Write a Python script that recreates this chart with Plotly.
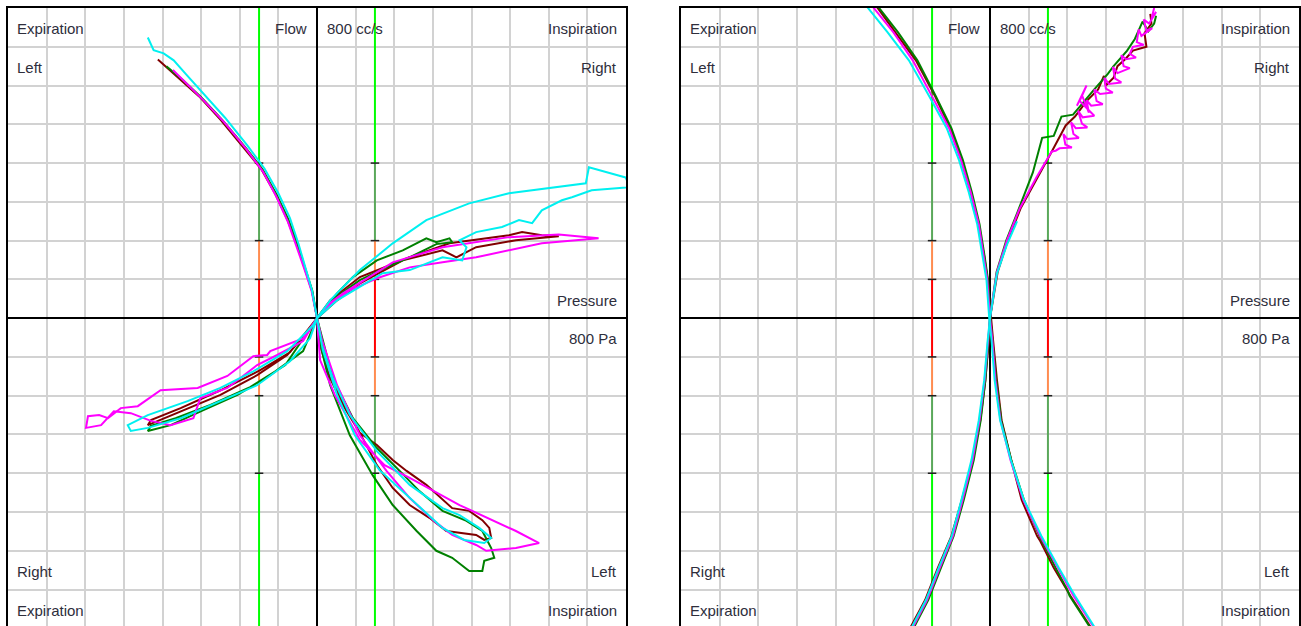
import plotly.graph_objects as go

W, H = 1301, 626

# Axis ranges (Pa horizontally, cc/s vertically); grid every 100
PRESSURE_RANGE = [-800, 800]
FLOW_RANGE = [-794, 800]
GRID_STEP = 100

# Marker lines at +/-150 Pa with resistance zones along them
MARKER_PRESSURE = 150
ZONE_EDGES = [100, 200, 400, 900]          # |flow| boundaries
ZONE_COLORS = ["#ff0000", "#ff8c50", "#5aa85a", "#00ff00"]
TICK_FLOWS = [100, 200, 400]

# ---------------- Panel A (left chart) : (pressure Pa, flow cc/s) ----------------
A_LN_MAROON = [(-412, 667), (-358, 620), (-305, 572), (-250, 512), (-190, 440), (-144, 384), (-108, 320),
               (-77, 255), (-52, 190), (-30, 124), (-13, 70), (0, 0),
               (8, -70), (34, -155), (67, -224), (111, -296), (155, -327), (196, -366), (232, -394),
               (283, -430), (350, -490), (394, -497), (428, -521), (446, -541), (451, -567), (433, -572),
               (412, -559), (335, -549), (291, -515), (240, -482), (196, -438), (155, -379), (103, -283),
               (59, -198), (21, -95), (0, 0)]
A_LN_GREEN = [(-390, 650), (-348, 615), (-300, 570), (-246, 512), (-186, 441), (-141, 384), (-105, 320),
              (-74, 255), (-50, 190), (-29, 124), (-12, 70), (0, 0),
              (3, -44), (34, -173), (85, -302), (144, -405), (196, -482), (258, -549), (309, -600),
              (350, -618), (394, -652), (428, -652), (433, -626), (459, -618), (451, -593), (428, -549),
              (387, -523), (325, -497), (265, -446), (214, -394), (155, -335), (93, -258), (41, -155), (0, 0)]
A_LN_MAGENTA = [(-373, 640), (-340, 607), (-295, 563), (-240, 505), (-183, 436), (-140, 378), (-106, 315),
                (-76, 250), (-53, 186), (-31, 122), (-14, 70), (0, 0),
                (8, -108), (46, -198), (111, -314), (175, -379), (240, -412), (369, -482), (515, -549),
                (575, -580), (515, -593), (438, -600), (412, -585), (350, -559), (309, -528), (240, -464),
                (180, -394), (111, -302), (52, -173), (13, -57), (0, 0)]
A_LN_CYAN = [(-438, 724), (-423, 691), (-397, 683), (-371, 665), (-340, 630), (-293, 578), (-238, 517),
             (-180, 445), (-136, 386), (-100, 322), (-70, 258), (-48, 192), (-28, 126), (-13, 72), (0, 0),
             (13, -70), (41, -155), (85, -250), (155, -343), (240, -430), (325, -490), (369, -508),
             (420, -541), (451, -567), (433, -580), (381, -572), (325, -541), (240, -464), (162, -392),
             (98, -302), (52, -198), (15, -82), (0, 0)]

A_RN_MAROON = [(0, 0), (34, 46), (111, 106), (240, 157), (343, 193), (497, 214), (531, 222), (582, 214),
               (626, 211), (515, 201), (412, 183), (361, 157), (325, 175), (222, 149), (111, 90), (52, 46),
               (0, 0), (0, -8), (-77, -95), (-155, -147), (-250, -198), (-353, -240), (-438, -276),
               (-430, -263), (-353, -232), (-250, -186), (-147, -134), (-70, -88), (0, 0)]
A_RN_GREEN = [(0, 0), (52, 64), (93, 106), (155, 149), (222, 175), (283, 206), (309, 196), (343, 206),
              (350, 196), (309, 191), (240, 157), (175, 129), (111, 98), (46, 52), (0, 0),
              (-36, -85), (-121, -147), (-206, -198), (-294, -237), (-379, -276), (-438, -291),
              (-430, -278), (-366, -258), (-276, -224), (-173, -178), (-82, -121), (0, 0)]
A_RN_MAGENTA = [(0, 0), (34, 39), (67, 64), (196, 144), (325, 183), (497, 209), (626, 216), (729, 206),
                (582, 193), (412, 157), (325, 144), (240, 131), (155, 103), (85, 72), (34, 34), (0, 0),
                (-36, -52), (-121, -85), (-129, -95), (-165, -98), (-232, -149), (-309, -180), (-405, -186),
                (-464, -227), (-508, -232), (-541, -258), (-564, -250), (-593, -253), (-598, -283),
                (-559, -276), (-526, -240), (-482, -245), (-430, -265), (-379, -276), (-320, -258),
                (-302, -206), (-232, -180), (-155, -121), (-103, -95), (-36, -59), (0, 0)]
A_RN_CYAN = [(0, 0), (34, 46), (111, 124), (196, 193), (283, 253), (394, 296), (497, 322), (600, 335),
             (696, 348), (704, 389), (799, 363), (810, 338), (711, 330), (660, 312), (634, 304), (582, 278),
             (557, 245), (523, 253), (479, 235), (412, 222), (369, 201), (387, 183), (376, 149), (325, 157),
             (240, 124), (170, 116), (111, 80), (52, 46), (0, 0),
             (-10, -18), (-77, -85), (-165, -137), (-250, -180), (-335, -214), (-438, -250), (-490, -276),
             (-482, -291), (-438, -283), (-353, -258), (-250, -214), (-155, -173), (-70, -111), (-18, -52),
             (0, 0)]

# ---------------- Panel B (right chart) ----------------
B_LN_MAROON = [(-318, 832), (-290, 799), (-245, 737), (-192, 665), (-142, 572), (-103, 490), (-74, 407),
               (-50, 325), (-30, 242), (-15, 160), (-6, 98), (2, 0), (8, -57), (18, -160), (30, -263),
               (55, -366), (82, -469), (122, -562), (130, -575), (165, -644), (208, -716), (260, -796),
               (278, -830)]
B_LN_GREEN = [(-312, 832), (-286, 799), (-238, 737), (-188, 665), (-140, 572), (-100, 490), (-70, 407),
              (-47, 325), (-27, 242), (-14, 160), (-5, 98), (1, 0), (7, -57), (16, -160), (29, -263),
              (55, -366), (88, -469), (128, -562), (170, -644), (200, -700), (206, -716), (258, -796),
              (276, -830)]
B_LN_MAGENTA = [(-325, 832), (-300, 799), (-250, 737), (-200, 665), (-150, 572), (-106, 490), (-75, 407),
                (-50, 325), (-29, 242), (-16, 160), (-7, 98), (0, 0), (6, -57), (14, -160), (27, -263),
                (53, -366), (86, -469), (130, -562), (175, -644), (216, -716), (268, -796), (286, -830)]
B_LN_CYAN = [(-340, 832), (-315, 799), (-265, 737), (-210, 665), (-157, 572), (-112, 490), (-80, 407),
             (-55, 325), (-33, 242), (-20, 160), (-9, 98), (-2, 0), (4, -57), (12, -160), (26, -263),
             (54, -366), (88, -469), (133, -562), (178, -644), (220, -716), (270, -796), (288, -830)]

B_RN_MAROON = [(415, 785), (418, 760), (400, 735), (405, 700), (370, 690), (350, 668), (330, 650), (320, 620),
               (300, 600), (295, 625), (280, 590), (250, 560), (220, 520), (196, 497), (160, 430), (125, 366),
               (80, 285), (46, 200), (20, 120), (6, 36), (0, 0), (-3, -57), (-12, -160), (-25, -263),
               (-45, -366), (-73, -469), (-100, -562), (-135, -644), (-168, -727), (-205, -796), (-225, -843)]
B_RN_GREEN = [(430, 780), (425, 760), (410, 740), (395, 765), (375, 720), (355, 690), (320, 650), (305, 630),
              (270, 590), (245, 560), (215, 525), (185, 520), (165, 470), (135, 465), (111, 376), (75, 283),
              (42, 200), (17, 119), (4, 36), (0, 0), (-4, -57), (-12, -160), (-24, -263), (-42, -366),
              (-68, -469), (-94, -562), (-127, -644), (-160, -727), (-196, -796), (-216, -843)]
B_RN_MAGENTA = [(425, 800), (418, 772), (430, 790), (412, 760), (398, 770), (405, 742), (420, 748), (392, 728),
                (385, 745), (380, 712), (398, 705), (370, 700), (362, 682), (378, 672), (352, 668), (340, 678),
                (346, 650), (362, 645), (330, 632), (318, 648), (324, 618), (340, 608), (308, 604), (296, 620),
                (300, 592), (318, 582), (285, 578), (270, 590), (276, 560), (292, 552), (262, 548), (250, 562),
                (256, 530), (238, 575), (225, 548), (250, 600), (232, 560), (270, 522), (240, 518), (228, 535),
                (238, 502), (252, 492), (222, 490), (210, 505), (216, 475), (230, 465), (200, 462), (190, 475),
                (195, 448), (212, 440), (180, 438), (170, 432), (160, 430), (120, 363), (77, 283),
                (44, 201), (18, 119), (5, 36), (0, 0), (-5, -57), (-14, -160), (-27, -263), (-45, -366),
                (-71, -469), (-96, -562), (-130, -644), (-163, -727), (-199, -796), (-220, -843)]
B_RN_CYAN = [(70, 250), (60, 225), (44, 190), (18, 115), (5, 36), (0, 0), (-6, -57), (-15, -160), (-29, -263),
             (-48, -366), (-74, -469), (-99, -562), (-133, -644), (-166, -727), (-202, -796), (-224, -843)]

SERIES_COLORS = {"maroon": "#800000", "green": "#008000", "magenta": "#ff00ff", "cyan": "#00f0f0"}

CURVES = [
    ("A", "maroon", A_LN_MAROON), ("A", "maroon", A_RN_MAROON),
    ("A", "green", A_LN_GREEN), ("A", "green", A_RN_GREEN),
    ("A", "magenta", A_LN_MAGENTA), ("A", "magenta", A_RN_MAGENTA),
    ("A", "cyan", A_LN_CYAN), ("A", "cyan", A_RN_CYAN),
    ("B", "maroon", B_LN_MAROON), ("B", "maroon", B_RN_MAROON),
    ("B", "green", B_LN_GREEN), ("B", "green", B_RN_GREEN),
    ("B", "magenta", B_LN_MAGENTA), ("B", "magenta", B_RN_MAGENTA),
    ("B", "cyan", B_LN_CYAN), ("B", "cyan", B_RN_CYAN),
]

# Corner labels: (text, x px, y px, anchor) relative to panel's left edge offset
LABELS = [
    ("Expiration", 15, 28, "left"), ("Left", 15, 67, "left"),
    ("Flow", 309, 28, "right"), ("800 cc/s", 325, 28, "left"),
    ("Inspiration", 619, 28, "right"), ("Right", 619, 67, "right"),
    ("Pressure", 619, 300, "right"), ("800 Pa", 619, 338, "right"),
    ("Right", 15, 571, "left"), ("Expiration", 15, 610, "left"),
    ("Left", 619, 571, "right"), ("Inspiration", 619, 610, "right"),
]
PANEL_OFFSETS = {"A": 0, "B": 673}
AXES = {"A": ("x", "y"), "B": ("x2", "y2")}

fig = go.Figure()

# Marker lines with zones
for panel, (xa, ya) in AXES.items():
    for sx in (-1, 1):
        xm = sx * MARKER_PRESSURE
        lo = 0
        for i, edge in enumerate(ZONE_EDGES):
            segs = [(-edge, edge)] if i == 0 else [(lo, edge), (-lo, -edge)]
            for a, b in segs:
                fig.add_trace(go.Scatter(x=[xm, xm], y=[a, b], mode="lines",
                                         line=dict(color=ZONE_COLORS[i], width=2),
                                         xaxis=xa, yaxis=ya, hoverinfo="skip", showlegend=False))
            lo = edge
        for tf in TICK_FLOWS:
            for sy in (-1, 1):
                fig.add_trace(go.Scatter(x=[xm - 11, xm + 11], y=[sy * tf, sy * tf], mode="lines",
                                         line=dict(color="#202020", width=1.5),
                                         xaxis=xa, yaxis=ya, hoverinfo="skip", showlegend=False))

# Measurement curves
for panel, cname, pts in CURVES:
    xa, ya = AXES[panel]
    fig.add_trace(go.Scatter(x=[p for p, f in pts], y=[f for p, f in pts], mode="lines",
                             line=dict(color=SERIES_COLORS[cname], width=2),
                             xaxis=xa, yaxis=ya, hoverinfo="skip", showlegend=False))

grid_col = "#d2d2d2"
axis_common = dict(dtick=GRID_STEP, tick0=0, showgrid=True, gridcolor=grid_col, gridwidth=1.5,
                   zeroline=True, zerolinecolor="#000000", zerolinewidth=2,
                   showticklabels=False, ticks="", showline=True, linecolor="#000000", linewidth=2,
                   fixedrange=True)

dom_a = [8 / W, 626 / W]
dom_b = [681 / W, 1299 / W]
ydom = [0, (H - 8) / H]

fig.update_layout(
    width=W, height=H, margin=dict(l=0, r=0, t=0, b=0),
    paper_bgcolor="white", plot_bgcolor="white", showlegend=False,
    xaxis=dict(domain=dom_a, range=PRESSURE_RANGE, side="top", mirror=False, anchor="y", **axis_common),
    yaxis=dict(domain=ydom, range=FLOW_RANGE, mirror=True, anchor="x", **axis_common),
    xaxis2=dict(domain=dom_b, range=PRESSURE_RANGE, side="top", mirror=False, anchor="y2", **axis_common),
    yaxis2=dict(domain=ydom, range=FLOW_RANGE, mirror=True, anchor="x2", **axis_common),
    hovermode=False,
)

for panel, off in PANEL_OFFSETS.items():
    for text, px, py, anc in LABELS:
        fig.add_annotation(text=text, xref="paper", yref="paper",
                           x=(px + off) / W, y=1 - py / H, xanchor=anc, yanchor="middle",
                           showarrow=False,
                           font=dict(family="Arial, Liberation Sans, sans-serif", size=15, color="#2e2e3c"))

fig.write_html("out.html", config={"displayModeBar": False},
               post_script="document.body.style.margin='0';")
